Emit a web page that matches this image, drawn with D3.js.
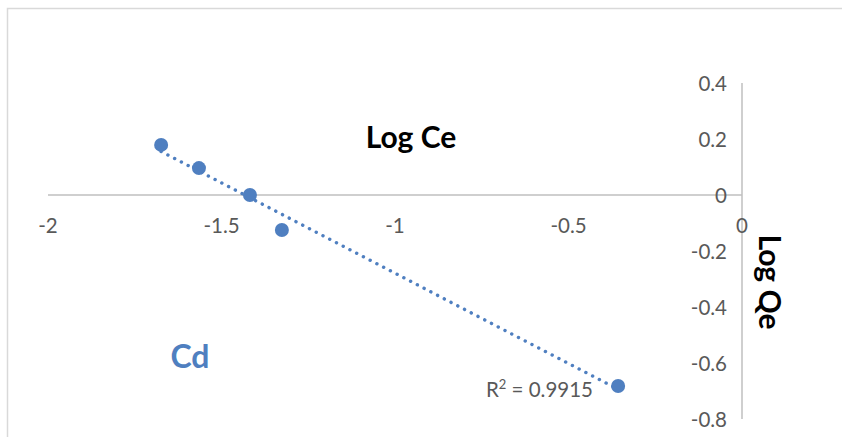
<!DOCTYPE html>
<html><head><meta charset="utf-8">
<script src="https://cdn.jsdelivr.net/npm/d3@7"></script>
<style>body{margin:0;background:#fff}svg{display:block}text{font-family:Lato,"Open Sans",sans-serif}</style>
</head><body><svg id="c" width="842" height="437"></svg>
<script>
const logCe = [-1.674, -1.565, -1.418, -1.326, -0.357];
const logQe = [0.179, 0.096, 0.0, -0.125, -0.682];
const xTicks = [-2, -1.5, -1, -0.5, 0];
const yTicks = [0.4, 0.2, 0, -0.2, -0.4, -0.6, -0.8];
const r2Label = "0.9915";
const seriesName = "Cd";

const svg = d3.select("#c");
const x = d3.scaleLinear().domain([-2, 0]).range([48, 742]);
const y = d3.scaleLinear().domain([-0.8, 0.4]).range([419, 83]);
const blue = "#4f7fc0", axisC = "#bfbfbf", txtC = "#595959";
const fmt = v => String(v).replace("\u2212","-");

svg.append("rect").attr("x",7.5).attr("y",8.5).attr("width",900).attr("height",500)
  .attr("fill","none").attr("stroke","#d9d9d9").attr("stroke-width",1.5);

svg.append("line").attr("x1",x(-2)).attr("x2",x(0)).attr("y1",y(0)).attr("y2",y(0))
  .attr("stroke",axisC).attr("stroke-width",1.5);
svg.append("line").attr("x1",x(0)).attr("x2",x(0)).attr("y1",y(0.4)).attr("y2",y(-0.8))
  .attr("stroke",axisC).attr("stroke-width",1.5);

svg.selectAll(".xt").data(xTicks).enter().append("text")
  .attr("x",d=>x(d)).attr("y",y(0)+38).attr("text-anchor","middle")
  .attr("font-size",20.5).attr("fill",txtC).text(d=>fmt(d));
svg.selectAll(".yt").data(yTicks).enter().append("text")
  .attr("x",x(0)-15).attr("y",d=>y(d)+7.5).attr("text-anchor","end")
  .attr("font-size",20.5).attr("fill",txtC).text(d=>d===0?"0":d.toFixed(1));

// trendline (least squares)
const n = logCe.length, mx = d3.mean(logCe), my = d3.mean(logQe);
let sxy=0,sxx=0; for(let i=0;i<n;i++){sxy+=(logCe[i]-mx)*(logQe[i]-my);sxx+=(logCe[i]-mx)**2;}
const b = sxy/sxx, a = my-b*mx;
const x0=d3.min(logCe), x1=d3.max(logCe);
svg.append("line").attr("x1",x(x0)).attr("y1",y(a+b*x0)).attr("x2",x(x1)).attr("y2",y(a+b*x1))
  .attr("stroke",blue).attr("stroke-width",3.4).attr("stroke-linecap","round")
  .attr("stroke-dasharray","0.1 7.5");

svg.selectAll(".pt").data(logCe).enter().append("circle")
  .attr("cx",d=>x(d)).attr("cy",(d,i)=>y(logQe[i])).attr("r",7).attr("fill",blue);

const r2 = svg.append("text").attr("x",593).attr("y",397).attr("text-anchor","end")
  .attr("font-size",20.5).attr("fill",txtC);
r2.append("tspan").text("R");
r2.append("tspan").attr("dy",-8).attr("font-size",13).text("2");
r2.append("tspan").attr("dy",8).text(" = "+r2Label);

svg.append("text").attr("x",411).attr("y",148).attr("text-anchor","middle")
  .attr("font-size",30).attr("font-weight","bold").attr("fill","#000").text("Log Ce");
svg.append("text").attr("transform","translate(759,282) rotate(90)").attr("text-anchor","middle")
  .attr("font-size",30).attr("font-weight","bold").attr("fill","#000").text("Log Qe");
svg.append("text").attr("x",190).attr("y",368).attr("text-anchor","middle")
  .attr("font-size",32).attr("font-weight","bold").attr("fill",blue).text(seriesName);
</script></body></html>
